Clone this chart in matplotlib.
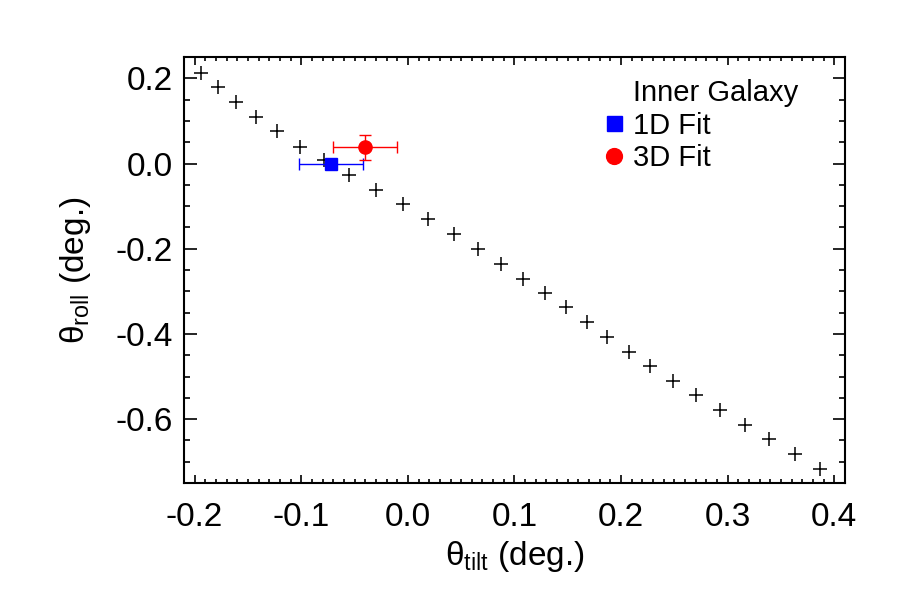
import matplotlib
matplotlib.use('Agg')
import matplotlib.pyplot as plt
from matplotlib.ticker import MultipleLocator, FormatStrFormatter

plt.rcParams['font.family'] = ['Liberation Sans', 'DejaVu Sans']
plt.rcParams['mathtext.fontset'] = 'custom'
plt.rcParams['mathtext.rm'] = 'Liberation Sans'
plt.rcParams['mathtext.it'] = 'Liberation Sans:italic'

# grid of tilt / roll pairs (black crosses)
tilt = [-0.194, -0.178, -0.161, -0.142, -0.123, -0.101, -0.079, -0.055, -0.030, -0.005,
        0.019, 0.043, 0.066, 0.087, 0.108, 0.129, 0.148, 0.168, 0.187, 0.207,
        0.227, 0.249, 0.270, 0.293, 0.316, 0.339, 0.363, 0.387]
roll = [0.212, 0.179, 0.144, 0.110, 0.076, 0.039, 0.008, -0.028, -0.062, -0.096,
        -0.131, -0.166, -0.201, -0.237, -0.270, -0.303, -0.338, -0.373, -0.407, -0.442,
        -0.475, -0.510, -0.544, -0.579, -0.614, -0.647, -0.682, -0.716]

# fits
fit1d_x, fit1d_y, fit1d_xerr = -0.072, 0.0, 0.030
fit3d_x, fit3d_y, fit3d_xerr, fit3d_yerr = -0.040, 0.038, 0.030, 0.030

fig = plt.figure(figsize=(9, 6), dpi=100)
ax = fig.add_axes([0.2044, 0.195, 0.7345, 0.71])

ax.plot(tilt, roll, '+', color='black', markersize=10, markeredgewidth=1.1, linestyle='none')

# error bars first, markers on top (markers carry the legend entries)
ax.errorbar(fit1d_x, fit1d_y, xerr=fit1d_xerr, fmt='none', ecolor='blue',
            elinewidth=1, capsize=4, capthick=1)
ax.errorbar(fit3d_x, fit3d_y, xerr=fit3d_xerr, yerr=fit3d_yerr, fmt='none', ecolor='red',
            elinewidth=1, capsize=4, capthick=1)
ax.plot(fit1d_x, fit1d_y, 's', color='blue', markersize=9, label='1D Fit')
ax.plot(fit3d_x, fit3d_y, 'o', color='red', markersize=9.5, label='3D Fit')

ax.set_xlim(-0.21, 0.41)
ax.set_ylim(-0.75, 0.25)
ax.xaxis.set_major_locator(MultipleLocator(0.1))
ax.xaxis.set_minor_locator(MultipleLocator(0.01))
ax.yaxis.set_major_locator(MultipleLocator(0.2))
ax.yaxis.set_minor_locator(MultipleLocator(0.05))
ax.xaxis.set_major_formatter(FormatStrFormatter('%.1f'))
ax.yaxis.set_major_formatter(FormatStrFormatter('%.1f'))

ax.tick_params(axis='both', which='both', direction='in', top=True, right=True,
               labelsize=24, color='black', width=1.2)
ax.tick_params(axis='x', which='major', length=6, pad=14)
ax.tick_params(axis='x', which='minor', length=3)
ax.tick_params(axis='y', which='major', length=9, pad=8)
ax.tick_params(axis='y', which='minor', length=4.5)
for s in ax.spines.values():
    s.set_linewidth(1.5)

ax.set_xlabel(r'θ$_{\rm tilt}$ (deg.)', fontsize=24, labelpad=4)
ax.set_ylabel(r'θ$_{\rm roll}$ (deg.)', fontsize=24, labelpad=16)

leg = ax.legend(loc='upper left', bbox_to_anchor=(0.635, 0.872), frameon=False,
                fontsize=21, handlelength=0.7, handletextpad=0.3, borderpad=0,
                borderaxespad=0, labelspacing=0.15, markerscale=1.2)
ax.text(0.679, 0.915, 'Inner Galaxy', transform=ax.transAxes, fontsize=21,
        ha='left', va='center')

fig.savefig('out.png', dpi=100)
